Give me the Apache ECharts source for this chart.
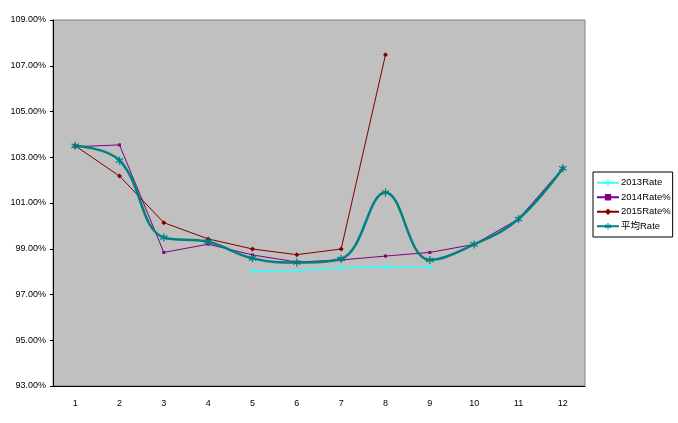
<!DOCTYPE html>
<html><head><meta charset="utf-8">
<script src="https://cdn.jsdelivr.net/npm/echarts@6/dist/echarts.min.js"></script>
<style>html,body{margin:0;padding:0;background:#fff}#c{width:678px;height:423px}</style>
</head><body><div id="c"></div>
<script>
const categories = ['1','2','3','4','5','6','7','8','9','10','11','12'];
const rate2013 = [null,null,null,null,98.03,98.05,98.17,98.21,98.19,null,null,null];
const rate2014 = [103.46,103.54,98.84,99.2,98.73,98.42,98.51,98.68,98.84,99.19,100.3,102.52];
const rate2015 = [103.5,102.18,100.14,99.43,98.99,98.74,98.99,107.48,null,null,null,null];
const rateAvg  = [103.5,102.86,99.49,99.31,98.58,98.4,98.56,101.46,98.51,99.19,100.3,102.52];
const yMin = 93, yMax = 109, yStep = 2;
const names = ['2013Rate','2014Rate%','2015Rate%','平均Rate'];

const cross = 'path://M4,0H6V4H10V6H6V10H4V6H0V4H4Z';
const star = 'path://M4.3,0H5.7V3.3L8.6,1.6L9.3,2.8L6.4,4.5L9.3,6.2L8.6,7.4L5.7,5.7V9H4.3V5.7L1.4,7.4L0.7,6.2L3.6,4.5L0.7,2.8L1.4,1.6L4.3,3.3Z';
const font = '"Liberation Sans","Noto Sans CJK JP",sans-serif';
const chart = echarts.init(document.getElementById('c'));
chart.setOption({
  animation:false,
  backgroundColor:'#fff',
  grid:{left:53,right:93,top:20,bottom:37,show:true,backgroundColor:'#C0C0C0',borderColor:'#808080',borderWidth:1},
  legend:{orient:'vertical',left:593,top:172,padding:[6,2,6,3],itemGap:5,itemWidth:22,itemHeight:8,
    backgroundColor:'#fff',borderColor:'#000',borderWidth:1,
    textStyle:{fontFamily:font,fontSize:9.5,color:'#000',padding:[0,0,0,-3]},data:names},
  xAxis:{type:'category',data:categories,boundaryGap:true,
    axisLine:{lineStyle:{color:'#000',width:1}},
    axisTick:{inside:true,length:3,lineStyle:{color:'#000'}},
    axisLabel:{color:'#000',fontFamily:font,fontSize:9,margin:13},splitLine:{show:false}},
  yAxis:{type:'value',min:yMin,max:yMax,interval:yStep,
    axisLine:{show:true,lineStyle:{color:'#000',width:1}},
    axisTick:{show:true,length:3,lineStyle:{color:'#000'}},
    axisLabel:{color:'#000',fontFamily:font,fontSize:9,margin:7,formatter:v=>v.toFixed(2)+'%'},
    splitLine:{show:false}},
  series:[
    {name:names[0],type:'line',data:rate2013,symbol:cross,symbolSize:6,
      lineStyle:{color:'#33FFFF',width:1.5},itemStyle:{color:'#33FFFF'}},
    {name:names[1],type:'line',data:rate2014,symbol:'rect',symbolSize:3,
      lineStyle:{color:'#800080',width:1},itemStyle:{color:'#800080'}},
    {name:names[2],type:'line',data:rate2015,symbol:'diamond',symbolSize:5,
      lineStyle:{color:'#800000',width:1},itemStyle:{color:'#800000'}},
    {name:names[3],type:'line',data:rateAvg,smooth:0.4,symbol:star,symbolSize:8,
      lineStyle:{color:'#008080',width:2.5},itemStyle:{color:'#008080'}}
  ]
});
</script></body></html>
